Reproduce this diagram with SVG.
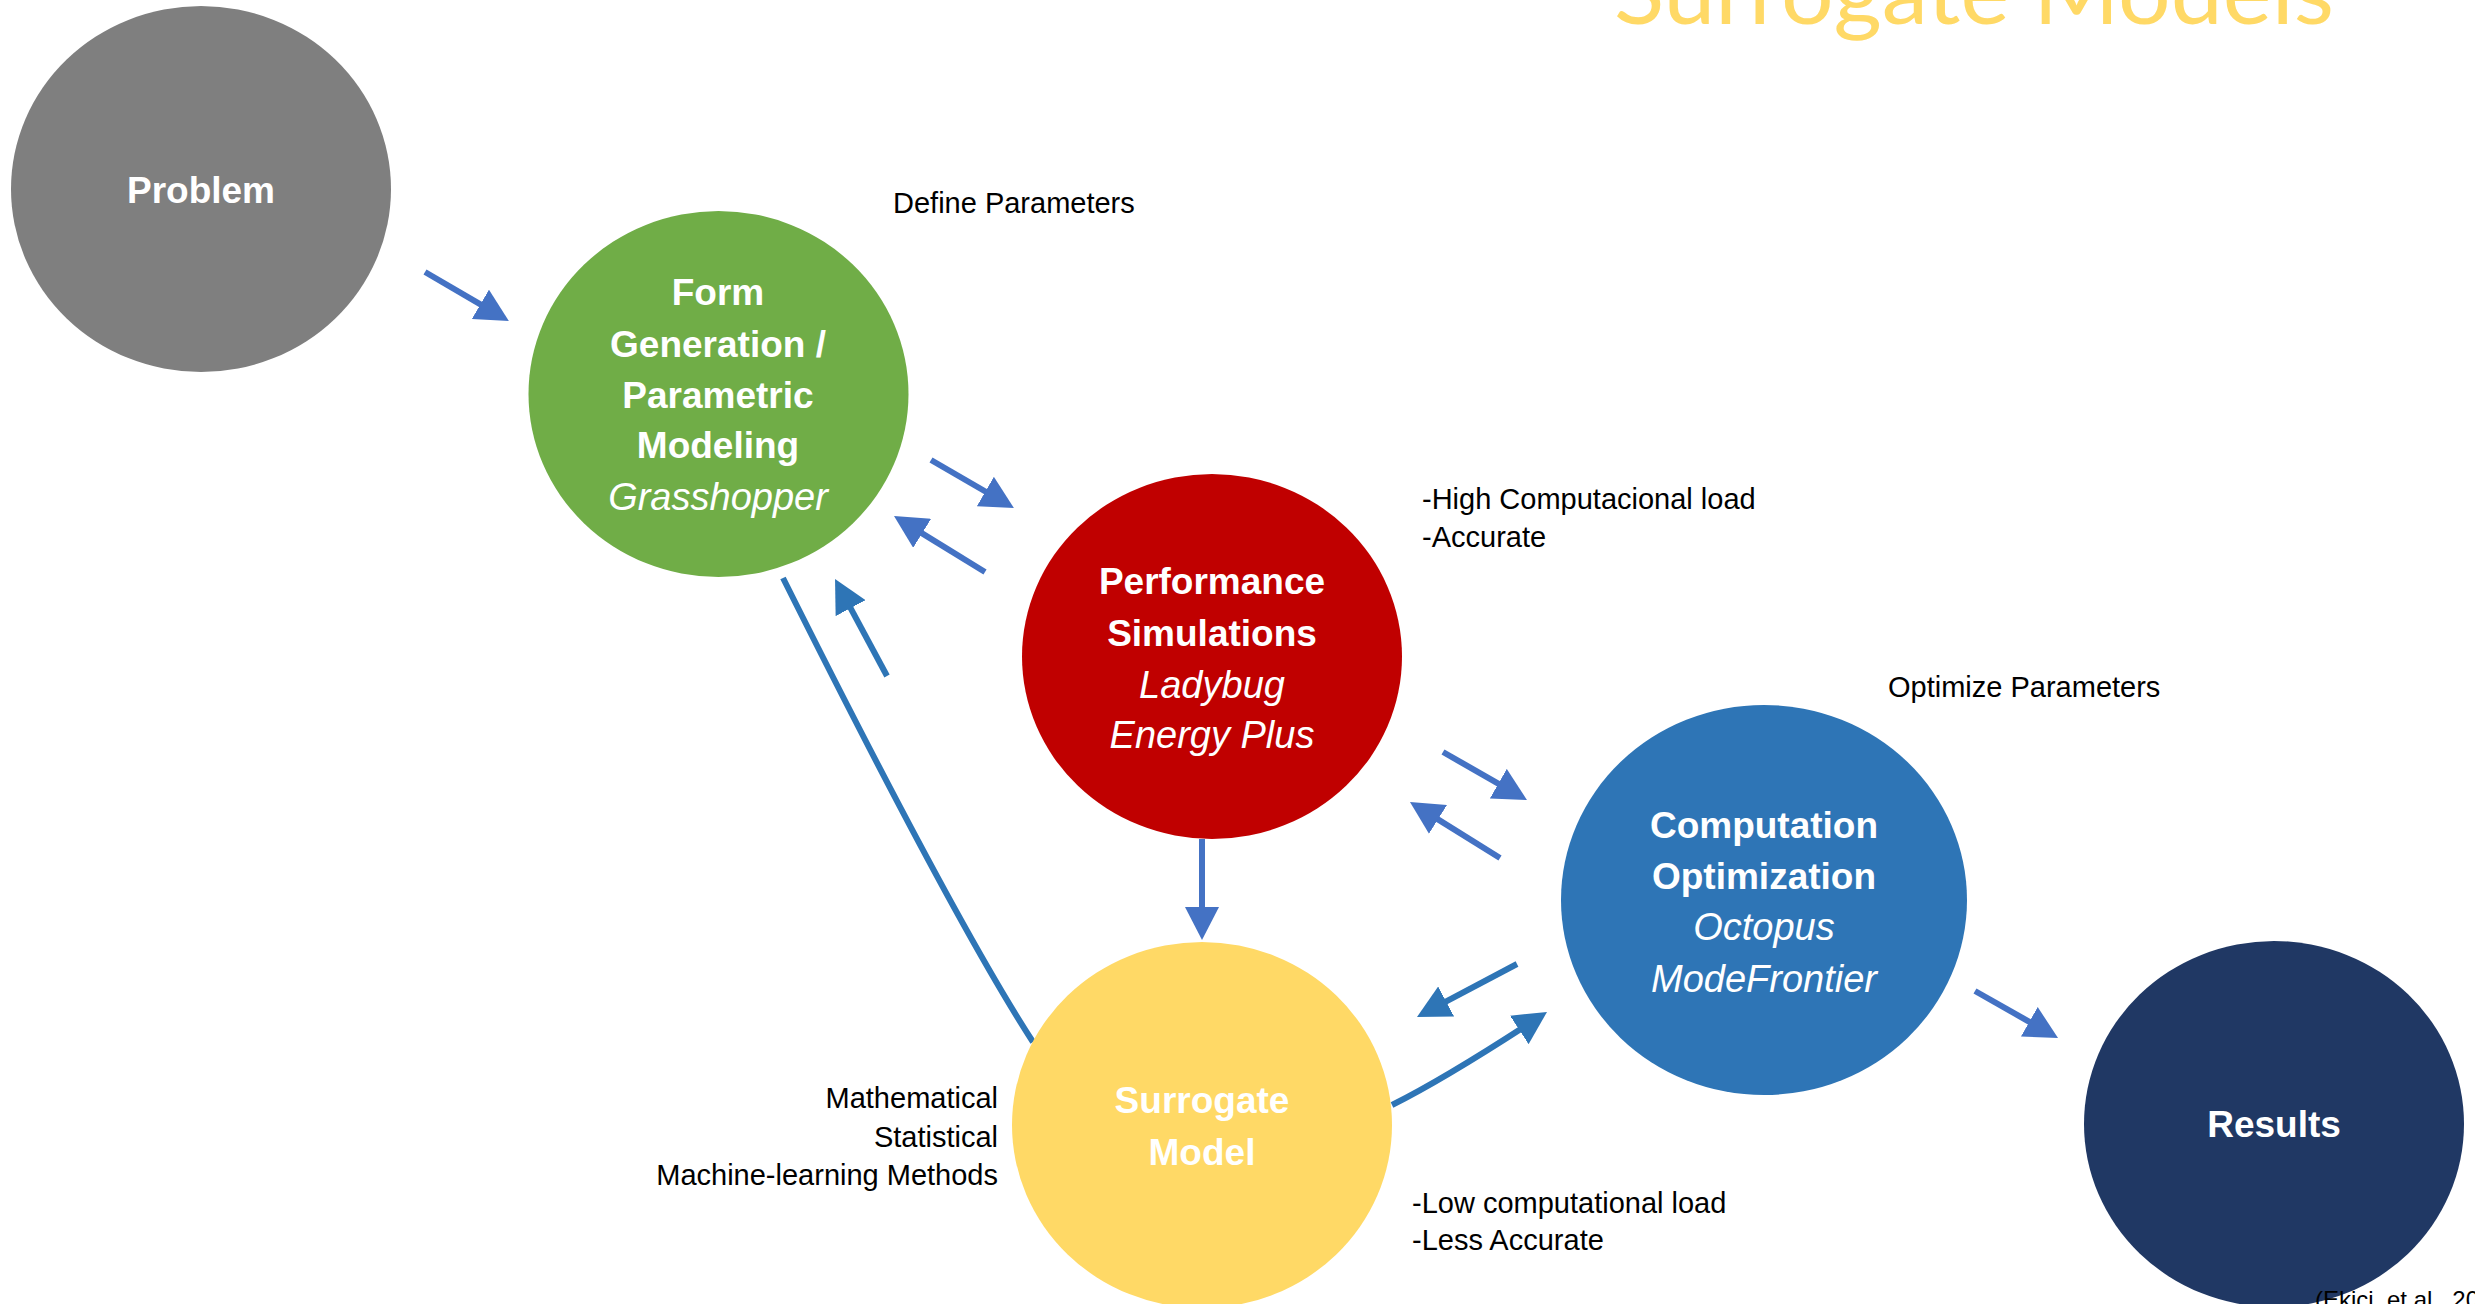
<svg xmlns="http://www.w3.org/2000/svg" width="2475" height="1304" viewBox="0 0 2475 1304">
<style>
.node-title{font-family:"Liberation Sans",Arial,sans-serif;font-size:37px;font-weight:bold;fill:#FFFFFF;text-anchor:middle}
.node-it{font-family:"Liberation Sans",Arial,sans-serif;font-size:38px;font-style:italic;fill:#FFFFFF;text-anchor:middle}
.label{font-family:"Liberation Sans",Arial,sans-serif;font-size:29px;fill:#000000}
.conn{fill:none;stroke-width:6}
.c1{stroke:#4472C4}
.c2{stroke:#2E75B6}
.title{font-family:"Lato","Liberation Sans",sans-serif;font-weight:normal;font-size:90px;fill:#FFD966}
</style>
<defs>
<marker id="ah1" markerUnits="userSpaceOnUse" markerWidth="34" markerHeight="34" viewBox="0 0 34 34" refX="10" refY="17" orient="auto">
<path d="M0,0 L33,17 L0,34 z" fill="#4472C4"/>
</marker>
<marker id="ah2" markerUnits="userSpaceOnUse" markerWidth="34" markerHeight="34" viewBox="0 0 34 34" refX="10" refY="17" orient="auto">
<path d="M0,0 L33,17 L0,34 z" fill="#2E75B6"/>
</marker>
</defs>
<rect width="2475" height="1304" fill="#FFFFFF"/>
<text class="title" x="1614" y="24" textLength="720" lengthAdjust="spacingAndGlyphs">Surrogate Models</text>

<g id="connectors">
<line class="conn c1" x1="425" y1="272" x2="489" y2="309.4" marker-end="url(#ah1)"/>
<line class="conn c1" x1="931" y1="460" x2="994" y2="496.5" marker-end="url(#ah1)"/>
<line class="conn c1" x1="985" y1="572" x2="913.6" y2="528.1" marker-end="url(#ah1)"/>
<line class="conn c2" x1="887" y1="676" x2="845.9" y2="599.3" marker-end="url(#ah2)"/>
<line class="conn c1" x1="1202" y1="839" x2="1202" y2="917" marker-end="url(#ah1)"/>
<line class="conn c1" x1="1443" y1="752" x2="1507" y2="788.6" marker-end="url(#ah1)"/>
<line class="conn c1" x1="1500" y1="858" x2="1429.5" y2="814.1" marker-end="url(#ah1)"/>
<line class="conn c2" x1="1517" y1="964" x2="1437.3" y2="1006.2" marker-end="url(#ah2)"/>
<path class="conn c2" d="M1392,1105 Q1443,1079.5 1527.7,1024.5" marker-end="url(#ah2)"/>
<line class="conn c1" x1="1975" y1="991" x2="2038" y2="1026.7" marker-end="url(#ah1)"/>
<path class="conn c2" d="M783,578 Q955,922 1033,1042"/>
</g>

<g id="problem">
<ellipse cx="201" cy="189" rx="190" ry="183" fill="#7F7F7F"/>
<text class="node-title" x="201" y="203">Problem</text>
</g>

<g id="form-generation">
<ellipse cx="718.5" cy="394" rx="190" ry="183" fill="#70AD47"/>
<text class="node-title" x="718" y="305">Form</text>
<text class="node-title" x="718" y="357">Generation /</text>
<text class="node-title" x="718" y="408">Parametric</text>
<text class="node-title" x="718" y="458">Modeling</text>
<text class="node-it" x="718" y="510">Grasshopper</text>
</g>

<g id="performance-simulations">
<ellipse cx="1212" cy="656.5" rx="190" ry="182.5" fill="#C00000"/>
<text class="node-title" x="1212" y="594">Performance</text>
<text class="node-title" x="1212" y="646">Simulations</text>
<text class="node-it" x="1212" y="698">Ladybug</text>
<text class="node-it" x="1212" y="748">Energy Plus</text>
</g>

<g id="surrogate-model">
<ellipse cx="1202" cy="1125" rx="190" ry="183" fill="#FFD966"/>
<text class="node-title" x="1202" y="1113">Surrogate</text>
<text class="node-title" x="1202" y="1165">Model</text>
</g>

<g id="computation-optimization">
<ellipse cx="1764" cy="900" rx="203" ry="195" fill="#2E75B6"/>
<text class="node-title" x="1764" y="838">Computation</text>
<text class="node-title" x="1764" y="889">Optimization</text>
<text class="node-it" x="1764" y="940">Octopus</text>
<text class="node-it" x="1764" y="992">ModeFrontier</text>
</g>

<g id="results">
<ellipse cx="2274" cy="1124" rx="190" ry="183" fill="#203864"/>
<text class="node-title" x="2274" y="1137">Results</text>
</g>

<g id="labels">
<text class="label" x="893" y="213">Define Parameters</text>
<text class="label" x="1422" y="509">-High Computacional load</text>
<text class="label" x="1422" y="547">-Accurate</text>
<text class="label" x="1888" y="697">Optimize Parameters</text>
<text class="label" x="998" y="1108" text-anchor="end">Mathematical</text>
<text class="label" x="998" y="1147" text-anchor="end">Statistical</text>
<text class="label" x="998" y="1185" text-anchor="end">Machine-learning Methods</text>
<text class="label" x="1412" y="1213">-Low computational load</text>
<text class="label" x="1412" y="1250">-Less Accurate</text>
<text class="label" x="2315" y="1308" style="font-size:24px">(Ekici, et al., 20</text>
</g>
</svg>
